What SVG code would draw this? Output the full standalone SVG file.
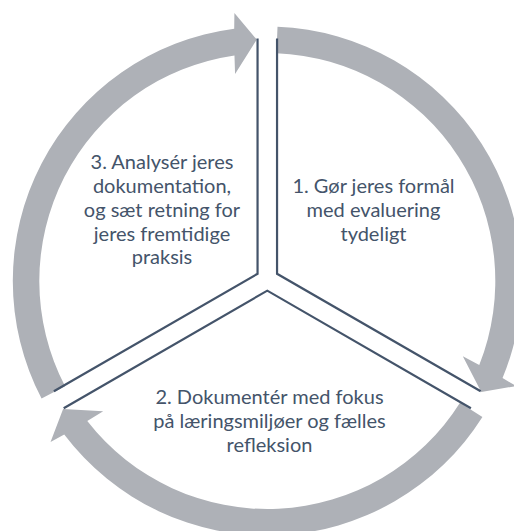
<svg xmlns="http://www.w3.org/2000/svg" width="514" height="531" viewBox="0 0 514 531">
  <style>
    .arrow { fill: #AEB1B7; stroke: none; }
    .edge { fill: none; stroke: #44546A; stroke-width: 2.2; stroke-linejoin: miter; }
    .lbl { font-family: Lato, "Liberation Sans", sans-serif; font-size: 20px; fill: #44546A; text-anchor: middle; }
  </style>
  <rect width="514" height="531" fill="#FFFFFF"/>
  <g id="connectors">
    <path id="arrow-1-2" class="arrow" d="M 277.51 26.71 A 254.5 254.5 0 0 1 502.54 378.09 L 516.02 386.06 L 481.26 391.91 L 462.82 356.25 L 479.26 365.01 A 228 228 0 0 0 276.45 53.18 Z"/>
    <path id="arrow-2-3" class="arrow" d="M 482.42 416.99 A 254.5 254.5 0 0 1 64.23 434.41 L 50.54 441.98 L 63.11 409.01 L 103.20 411.24 L 87.29 420.94 A 228 228 0 0 0 460.02 402.83 Z"/>
    <path id="arrow-3-1" class="arrow" d="M 41.56 398.52 A 254.5 254.5 0 0 1 234.21 28.66 L 234.40 13.01 L 256.79 39.6 L 235.07 74.00 L 234.47 55.38 A 228 228 0 0 0 65.06 386.28 Z"/>
  </g>
  <g id="node-1">
    <polyline class="edge" points="277.05,38.6 277.05,273.77 480.7,391.3"/>
    <text class="lbl" x="373.5" y="192.5">1. Gør jeres formål</text>
    <text class="lbl" x="373.5" y="216.5">med evaluering</text>
    <text class="lbl" x="373.5" y="240.5">tydeligt</text>
  </g>
  <g id="node-2">
    <polyline class="edge" points="470.9,408.3 267.3,290.66 63.7,408.3"/>
    <text class="lbl" x="269.5" y="403.9">2. Dokumentér med fokus</text>
    <text class="lbl" x="269.5" y="427.7">på læringsmiljøer og fælles</text>
    <text class="lbl" x="269.5" y="451.5">refleksion</text>
  </g>
  <g id="node-3">
    <polyline class="edge" points="53.9,391.3 257.55,273.77 257.55,38.6"/>
    <text class="lbl" x="162" y="169.1">3. Analysér jeres</text>
    <text class="lbl" x="162" y="192.9">dokumentation,</text>
    <text class="lbl" x="162" y="216.7">og sæt retning for</text>
    <text class="lbl" x="162" y="240.5">jeres fremtidige</text>
    <text class="lbl" x="162" y="264.3">praksis</text>
  </g>
</svg>
